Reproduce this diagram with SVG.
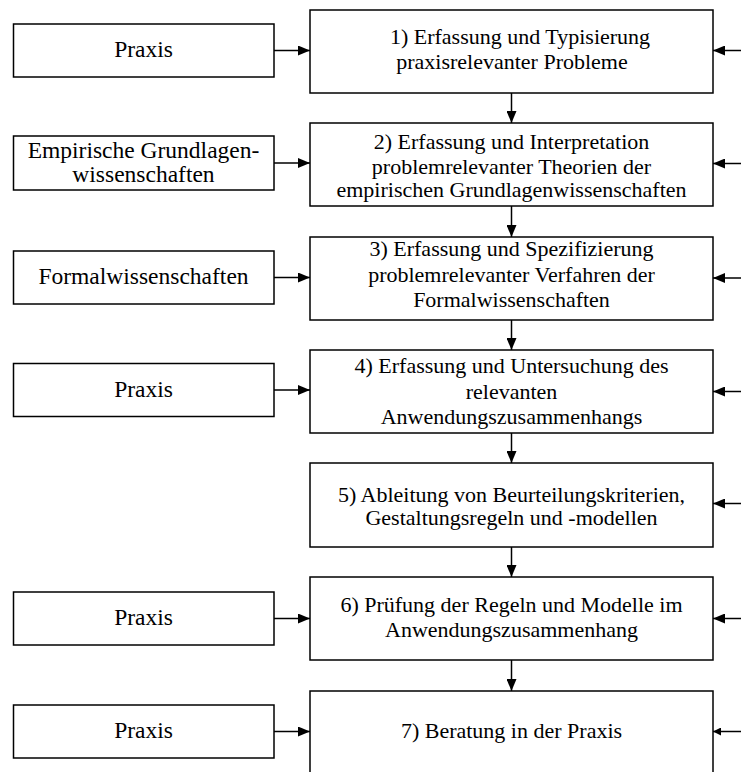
<svg xmlns="http://www.w3.org/2000/svg" width="741" height="772" viewBox="0 0 741 772">
<style>
.box{fill:#fff;stroke:#000;stroke-width:1.5}
.t{font-family:"Liberation Serif","Times New Roman",serif;font-size:22px;fill:#000;text-anchor:middle}
.s{font-size:23.5px}
.c{stroke:#000;stroke-width:1.5;fill:none}
</style>
<defs>
<marker id="ah" viewBox="0 0 10 10" refX="10" refY="5" markerWidth="8" markerHeight="8" markerUnits="userSpaceOnUse" orient="auto">
<path d="M0,0 L10,5 L0,10 Z" fill="#000"/>
</marker>
<marker id="ah2" viewBox="0 0 10 10" refX="10" refY="5" markerWidth="12" markerHeight="10" markerUnits="userSpaceOnUse" orient="auto" preserveAspectRatio="none">
<path d="M0,0 L10,5 L0,10 Z" fill="#000"/>
</marker>
</defs>
<rect width="741" height="772" fill="#fff"/>
<g id="connectors">
<line class="c" x1="274" y1="50.5" x2="310" y2="50.5" marker-end="url(#ah2)"/>
<line class="c" x1="274" y1="163" x2="310" y2="163" marker-end="url(#ah2)"/>
<line class="c" x1="274" y1="277.5" x2="310" y2="277.5" marker-end="url(#ah2)"/>
<line class="c" x1="274" y1="390" x2="310" y2="390" marker-end="url(#ah2)"/>
<line class="c" x1="274" y1="618.5" x2="310" y2="618.5" marker-end="url(#ah2)"/>
<line class="c" x1="274" y1="731.5" x2="310" y2="731.5" marker-end="url(#ah2)"/>
<line class="c" x1="741" y1="50.5" x2="713" y2="50.5" marker-end="url(#ah2)"/>
<line class="c" x1="741" y1="163.5" x2="713" y2="163.5" marker-end="url(#ah2)"/>
<line class="c" x1="741" y1="278" x2="713" y2="278" marker-end="url(#ah2)"/>
<line class="c" x1="741" y1="391.5" x2="713" y2="391.5" marker-end="url(#ah2)"/>
<line class="c" x1="741" y1="503.5" x2="713" y2="503.5" marker-end="url(#ah2)"/>
<line class="c" x1="741" y1="618.5" x2="713" y2="618.5" marker-end="url(#ah2)"/>
<line class="c" x1="741" y1="731.5" x2="713" y2="731.5" marker-end="url(#ah)"/>
<line class="c" x1="511.5" y1="93" x2="511.5" y2="123" marker-end="url(#ah2)"/>
<line class="c" x1="511.5" y1="206" x2="511.5" y2="237" marker-end="url(#ah2)"/>
<line class="c" x1="511.5" y1="320" x2="511.5" y2="350" marker-end="url(#ah2)"/>
<line class="c" x1="511.5" y1="433" x2="511.5" y2="463" marker-end="url(#ah2)"/>
<line class="c" x1="511.5" y1="547" x2="511.5" y2="577" marker-end="url(#ah2)"/>
<line class="c" x1="511.5" y1="660" x2="511.5" y2="691" marker-end="url(#ah2)"/>
</g>
<g id="src1"><rect class="box" x="13.5" y="24" width="260.5" height="53"/><text class="t s" x="143.5" y="57">Praxis</text></g>
<g id="src2"><rect class="box" x="13.5" y="136" width="260.5" height="54"/><text class="t s" x="143.5" y="158">Empirische Grundlagen-</text><text class="t s" x="143.5" y="182">wissenschaften</text></g>
<g id="src3"><rect class="box" x="13.5" y="251" width="260.5" height="53"/><text class="t s" x="143.5" y="284">Formalwissenschaften</text></g>
<g id="src4"><rect class="box" x="13.5" y="363.5" width="260.5" height="53"/><text class="t s" x="143.5" y="397">Praxis</text></g>
<g id="src6"><rect class="box" x="13.5" y="592" width="260.5" height="53"/><text class="t s" x="143.5" y="625">Praxis</text></g>
<g id="src7"><rect class="box" x="13.5" y="705" width="260.5" height="53"/><text class="t s" x="143.5" y="738">Praxis</text></g>
<g id="step1"><rect class="box" x="310" y="10" width="403" height="83"/><text class="t" x="520" y="44">1) Erfassung und Typisierung</text><text class="t" x="512" y="69">praxisrelevanter Probleme</text></g>
<g id="step2"><rect class="box" x="310" y="123" width="403" height="83"/><text class="t" x="511.5" y="149">2) Erfassung und Interpretation</text><text class="t" x="511.5" y="174">problemrelevanter Theorien der</text><text class="t" x="511.5" y="197">empirischen Grundlagenwissenschaften</text></g>
<g id="step3"><rect class="box" x="310" y="237" width="403" height="83"/><text class="t" x="511.5" y="256">3) Erfassung und Spezifizierung</text><text class="t" x="511.5" y="282">problemrelevanter Verfahren der</text><text class="t" x="511.5" y="307">Formalwissenschaften</text></g>
<g id="step4"><rect class="box" x="310" y="350" width="403" height="83"/><text class="t" x="511.5" y="373">4) Erfassung und Untersuchung des</text><text class="t" x="511.5" y="399">relevanten</text><text class="t" x="511.5" y="424">Anwendungszusammenhangs</text></g>
<g id="step5"><rect class="box" x="310" y="463" width="403" height="84"/><text class="t" x="511.5" y="502">5) Ableitung von Beurteilungskriterien,</text><text class="t" x="511.5" y="525">Gestaltungsregeln und -modellen</text></g>
<g id="step6"><rect class="box" x="310" y="577" width="403" height="83"/><text class="t" x="511.5" y="612">6) Prüfung der Regeln und Modelle im</text><text class="t" x="511.5" y="637">Anwendungszusammenhang</text></g>
<g id="step7"><rect class="box" x="310" y="691" width="403" height="90"/><text class="t" x="511.5" y="738">7) Beratung in der Praxis</text></g>
</svg>
